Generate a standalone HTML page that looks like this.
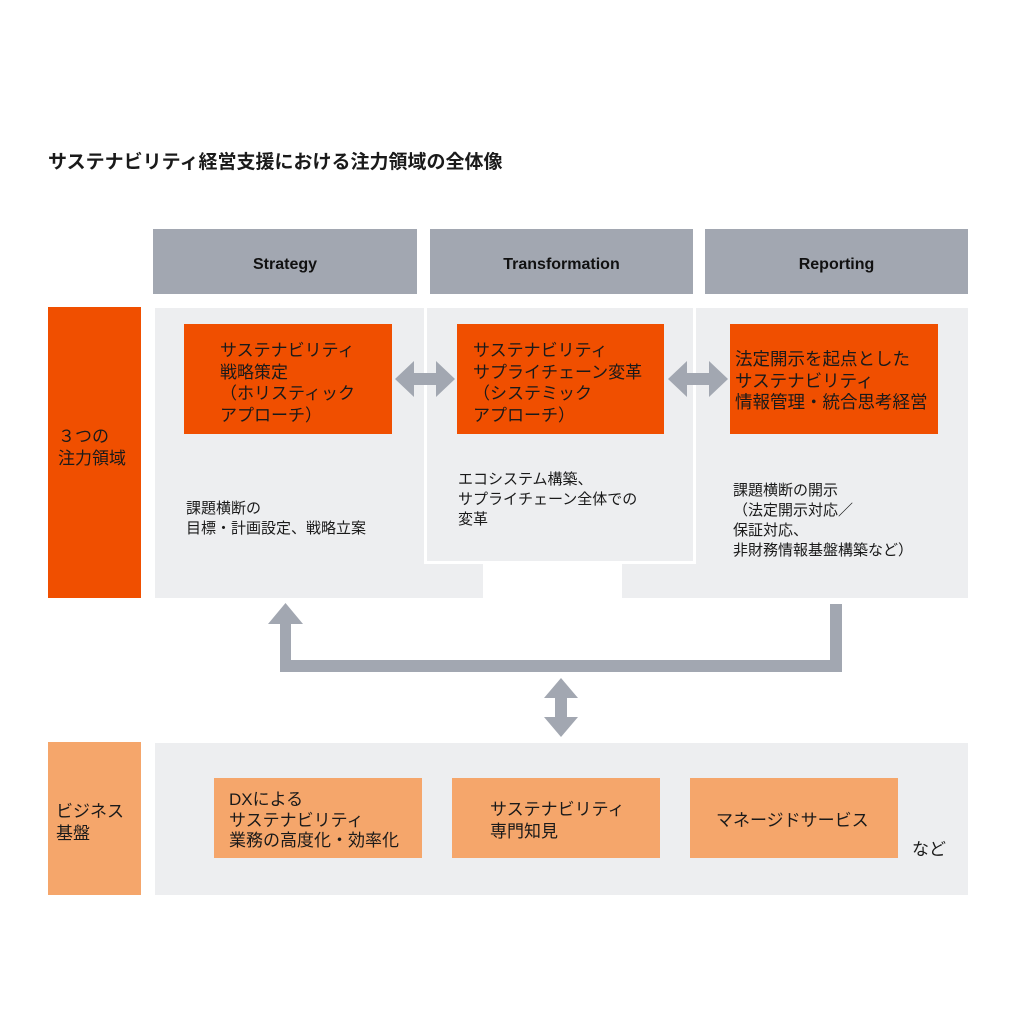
<!DOCTYPE html>
<html><head><meta charset="utf-8"><style>
body{margin:0;width:1036px;height:1036px;background:#fff;position:relative;overflow:hidden;font-family:"Liberation Sans","Noto Sans CJK JP",sans-serif;color:#1a1a1a}
div{position:absolute;box-sizing:border-box}
.hd{background:#a2a7b1;top:229px;height:65px;font-weight:bold;font-size:16px;display:flex;align-items:center;justify-content:center;color:#111;padding-top:6px}
.or{background:#f04f00;top:324px;height:110px}
.t{font-size:17px;line-height:21.5px;white-space:nowrap}
.d{font-size:15px;line-height:20px;white-space:nowrap}
.lo{background:#f5a66b;top:778px;height:80px}
</style></head><body>
<div class="t" style="left:48px;top:152px;font-weight:bold;font-size:19px">サステナビリティ経営支援における注力領域の全体像</div>
<div class="hd" style="left:153px;width:264px">Strategy</div>
<div class="hd" style="left:430px;width:263px">Transformation</div>
<div class="hd" style="left:705px;width:263px">Reporting</div>

<div style="left:48px;top:307px;width:93px;height:291px;background:#f04f00"></div>
<div class="t" style="left:58px;top:426px">３つの<br>注力領域</div>

<div style="left:155px;top:308px;width:813px;height:254px;background:#edeef0"></div>
<div style="left:155px;top:560px;width:328px;height:38px;background:#edeef0"></div>
<div style="left:622px;top:560px;width:346px;height:38px;background:#edeef0"></div>
<div style="left:424px;top:306px;width:272px;height:258px;border:3px solid #fff;border-top:none"></div>

<div class="or" style="left:184px;width:208px"></div>
<div class="or" style="left:457px;width:207px"></div>
<div class="or" style="left:730px;width:208px"></div>
<div class="t" style="left:220px;top:340px">サステナビリティ<br>戦略策定<br>（ホリスティック<br>アプローチ）</div>
<div class="t" style="left:473px;top:340px">サステナビリティ<br>サプライチェーン変革<br>（システミック<br>アプローチ）</div>
<div class="t" style="left:735px;top:349px;font-size:17.5px">法定開示を起点とした<br>サステナビリティ<br>情報管理・統合思考経営</div>

<div class="d" style="left:186px;top:499px">課題横断の<br>目標・計画設定、戦略立案</div>
<div class="d" style="left:458px;top:470px">エコシステム構築、<br>サプライチェーン全体での<br>変革</div>
<div class="d" style="left:733px;top:481px">課題横断の開示<br>（法定開示対応／<br>保証対応、<br>非財務情報基盤構築など）</div>

<svg style="position:absolute;left:0;top:0" width="1036" height="1036">
<g fill="#a2a7b1">
<polygon points="395,379 414,361 414,373 436,373 436,361 455,379 436,397 436,385 414,385 414,397"/>
<polygon points="668,379 687,361 687,373 709,373 709,361 728,379 709,397 709,385 687,385 687,397"/>
<polygon points="268,624 285.5,603 303,624 291,624 291,660 830,660 830,604 842,604 842,672 280,672 280,624"/>
<polygon points="561,678 578,698 567,698 567,717 578,717 561,737 544,717 555,717 555,698 544,698"/>
</g></svg>

<div style="left:48px;top:742px;width:93px;height:153px;background:#f5a66b"></div>
<div class="t" style="left:56px;top:801px">ビジネス<br>基盤</div>
<div style="left:155px;top:743px;width:813px;height:152px;background:#edeef0"></div>
<div class="lo" style="left:214px;width:208px"></div>
<div class="lo" style="left:452px;width:208px"></div>
<div class="lo" style="left:690px;width:208px"></div>
<div class="t" style="left:229px;top:790px;line-height:20.5px">DXによる<br>サステナビリティ<br>業務の高度化・効率化</div>
<div class="t" style="left:490px;top:799px">サステナビリティ<br>専門知見</div>
<div class="t" style="left:716px;top:810px">マネージドサービス</div>
<div class="t" style="left:912px;top:839px">など</div>
</body></html>
